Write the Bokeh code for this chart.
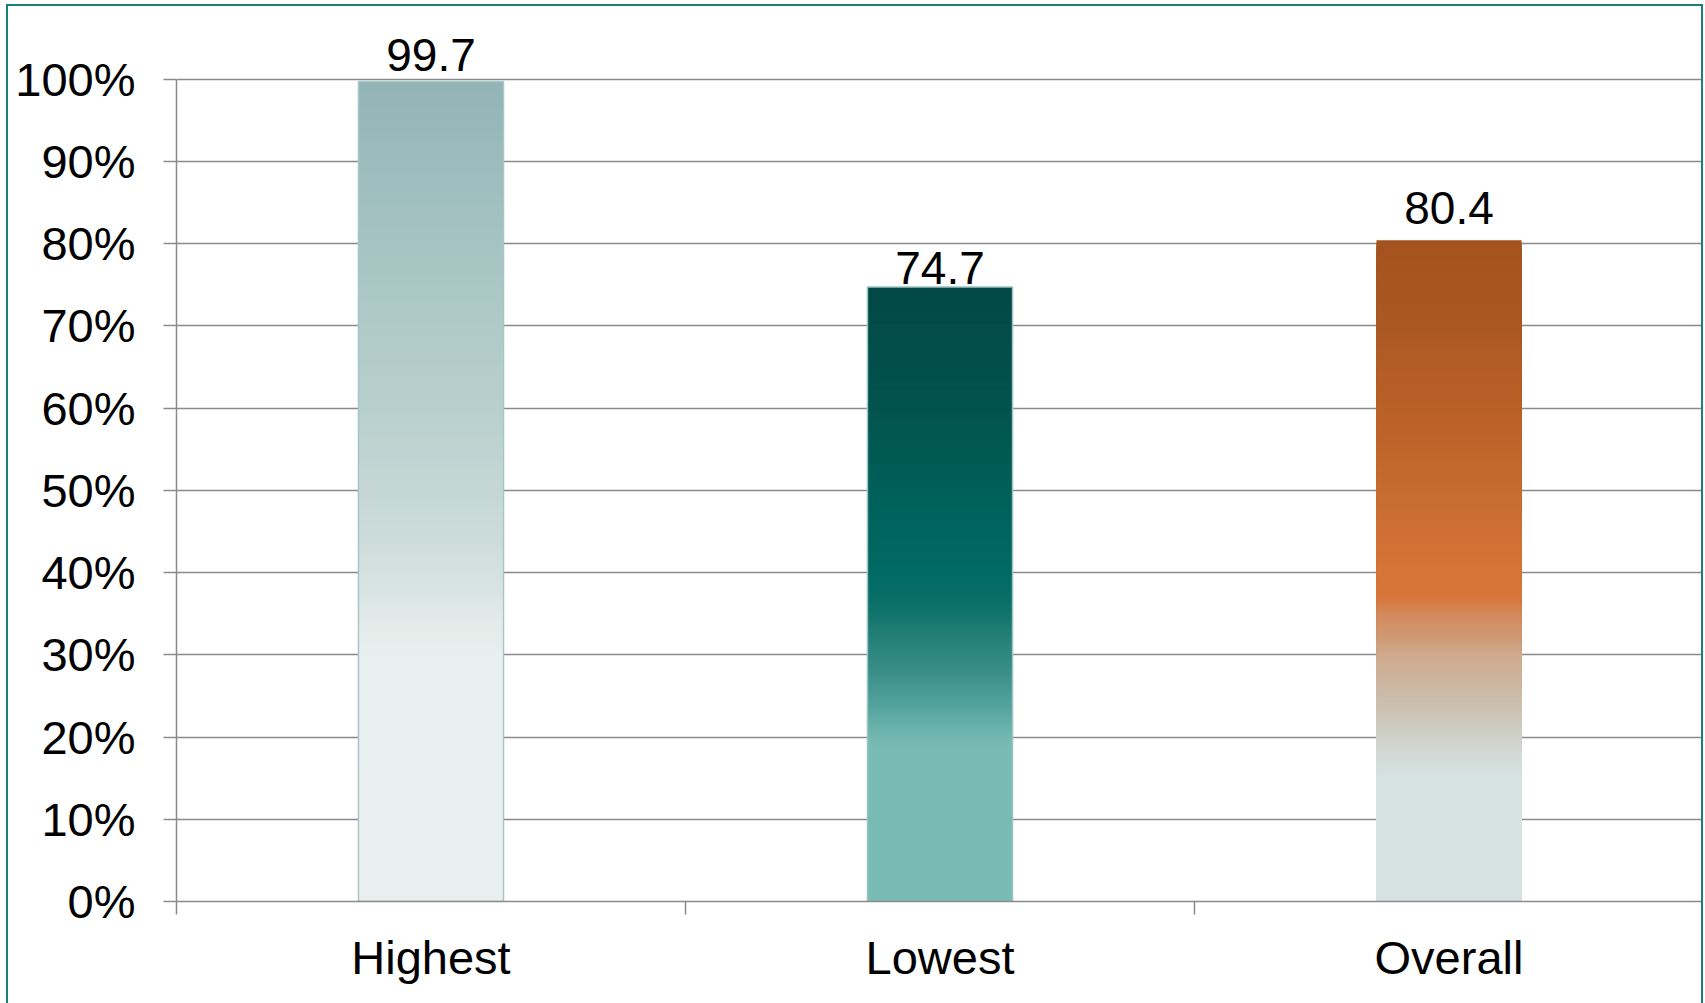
from bokeh.plotting import figure
from bokeh.models import ColumnDataSource, FixedTicker, Range1d, PrintfTickFormatter
from bokeh.embed import file_html
from bokeh.resources import INLINE
from bokeh.core.properties import value

# ---- data ----
categories = ["Highest", "Lowest", "Overall"]
values = [99.7, 74.7, 80.4]
y_ticks = [0, 10, 20, 30, 40, 50, 60, 70, 80, 90, 100]

# ---- styles ----
FONT = "Liberation Sans"
GRID = "#8a8a8a"
gradient_stops = [
    [(0, "#e8efee"), (30, "#e8efee"), (34, "#e3ebe9"), (38, "#d8e4e2"), (45, "#cbdbd9"),
     (60, "#b8d0cd"), (80, "#a6c3c3"), (100, "#92b4b6")],
    [(0, "#78bab4"), (19, "#78bab4"), (21, "#6bb3ad"), (24, "#52a29c"), (28, "#3a8e88"),
     (33, "#1f7d76"), (36, "#0b7068"), (40, "#006a63"), (50, "#005f59"), (60, "#02534e"),
     (75, "#034845")],
    [(0, "#d5e2e2"), (15, "#d5e2e2"), (17, "#d4ddda"), (20, "#d0d1ca"), (22, "#cdc7bb"),
     (26, "#ccb7a4"), (30, "#cfa98c"), (32, "#cf9a75"), (35, "#d2885a"), (37, "#d7763a"),
     (40, "#d57537"), (50, "#c76b30"), (60, "#b96027"), (70, "#ac5823"), (81, "#a4521f")],
]
bar_line_colors = ["#a9c6c7", "#9cc4c2", "#c87035"]
bar_line_alpha = [1.0, 1.0, 0.0]
label_offsets = [-10, -3, -16]
BAR_W = 0.285
N_SLICES = 260


def hex2rgb(h):
    h = h.lstrip("#")
    return tuple(int(h[i:i + 2], 16) for i in (0, 2, 4))


def interp(stops, y):
    if y <= stops[0][0]:
        return stops[0][1]
    for (y0, c0), (y1, c1) in zip(stops[:-1], stops[1:]):
        if y0 <= y <= y1:
            t = 0 if y1 == y0 else (y - y0) / (y1 - y0)
            a, b = hex2rgb(c0), hex2rgb(c1)
            return "#%02x%02x%02x" % tuple(round(a[i] + (b[i] - a[i]) * t) for i in range(3))
    return stops[-1][1]


centers = [i + 0.5 for i in range(len(categories))]

# gradient slices: each slice runs from 0 to its top, tallest drawn first
sx, stop_, scol = [], [], []
for c, v, stops in zip(centers, values, gradient_stops):
    for k in range(N_SLICES, 0, -1):
        top = v * k / N_SLICES
        mid = v * (k - 0.5) / N_SLICES
        sx.append(c)
        stop_.append(top)
        scol.append(interp(stops, mid))
order = sorted(range(len(stop_)), key=lambda i: -stop_[i])
slices = ColumnDataSource(dict(x=[sx[i] for i in order], top=[stop_[i] for i in order],
                               color=[scol[i] for i in order]))

px_per_unit = (900.4 - 79.4) / 100.0
y_end = 100 + (79.4 - 20) / px_per_unit

p = figure(width=1697, height=1003, output_backend="svg", toolbar_location=None,
           x_range=Range1d(0, 3), y_range=Range1d(0, y_end),
           min_border_left=168, min_border_right=2, min_border_top=13, min_border_bottom=108)
p.styles = {"border": "2px solid #17807a", "margin-left": "6px", "margin-top": "4px"}
p.outline_line_color = None
p.background_fill_color = "white"
p.border_fill_color = "white"

p.vbar(x="x", top="top", bottom=0, width=BAR_W, source=slices,
       fill_color="color", line_color=None)

p.vbar(x=centers, top=values, bottom=0, width=BAR_W, fill_alpha=0,
       line_color=bar_line_colors, line_alpha=bar_line_alpha, line_width=1.5)

p.text(x=centers, y=values, text=[f"{v:.1f}" for v in values],
       text_align="center", text_baseline="bottom", y_offset=label_offsets,
       text_font=value(FONT), text_font_size="46px", text_color="black")

# y axis
yax = p.yaxis[0]
yax.ticker = FixedTicker(ticks=y_ticks)
yax.bounds = (0, 100)
yax.formatter = PrintfTickFormatter(format="%d%%")
yax.major_label_text_font = FONT
yax.major_label_text_font_size = "47px"
yax.major_label_text_color = "black"
yax.major_tick_out = 13
yax.major_tick_in = 0
yax.minor_tick_out = 0
yax.minor_tick_in = 0
yax.major_label_standoff = 28
yax.axis_line_color = GRID
yax.major_tick_line_color = GRID
yax.axis_line_width = 1.5
yax.major_tick_line_width = 1.5

# x axis
xax = p.xaxis[0]
xax.ticker = FixedTicker(ticks=centers, minor_ticks=list(range(len(categories))))
xax.major_label_overrides = {c: name for c, name in zip(centers, categories)}
xax.major_label_text_font = FONT
xax.major_label_text_font_size = "47px"
xax.major_label_text_color = "black"
xax.major_tick_out = 0
xax.major_tick_in = 0
xax.minor_tick_out = 13
xax.minor_tick_in = 0
xax.major_label_standoff = 16
xax.axis_line_color = GRID
xax.minor_tick_line_color = GRID
xax.axis_line_width = 1.5
xax.minor_tick_line_width = 1.5

p.xgrid.grid_line_color = None
p.ygrid.ticker = FixedTicker(ticks=y_ticks)
p.ygrid.grid_line_color = GRID
p.ygrid.grid_line_width = 1.5

open("out.html", "w").write(file_html(p, INLINE))
